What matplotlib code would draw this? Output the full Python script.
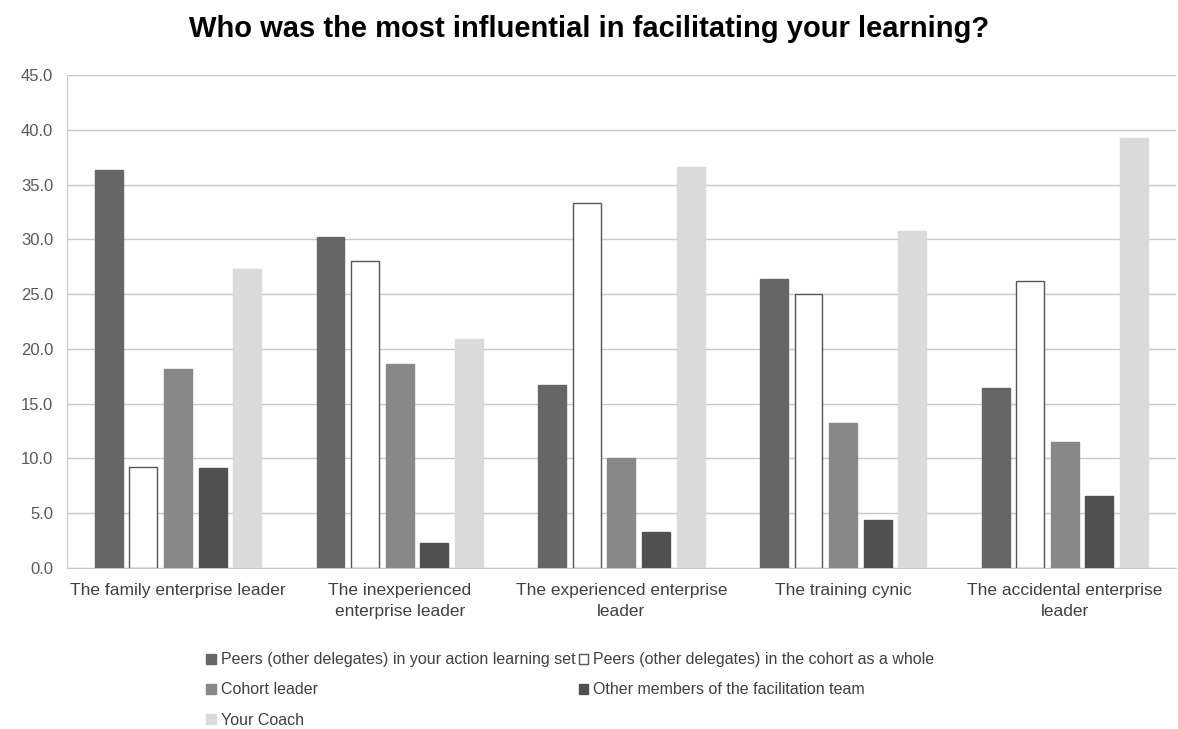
import matplotlib
matplotlib.use("agg")
import matplotlib.pyplot as plt
import numpy as np

plt.rcParams['font.family'] = ['Liberation Sans', 'DejaVu Sans']

title = "Who was the most influential in facilitating your learning?"
categories = ["The family enterprise leader",
              "The inexperienced\nenterprise leader",
              "The experienced enterprise\nleader",
              "The training cynic",
              "The accidental enterprise\nleader"]
series = ["Peers (other delegates) in your action learning set",
          "Peers (other delegates) in the cohort as a whole",
          "Cohort leader",
          "Other members of the facilitation team",
          "Your Coach"]
peers_set = [36.3, 30.2, 16.7, 26.4, 16.4]
peers_cohort = [9.2, 28.0, 33.3, 25.0, 26.2]
cohort_leader = [18.2, 18.6, 10.0, 13.2, 11.5]
other_members = [9.1, 2.3, 3.3, 4.4, 6.6]
your_coach = [27.3, 20.9, 36.6, 30.8, 39.3]

values = [peers_set, peers_cohort, cohort_leader, other_members, your_coach]
colors = ['#666666', '#ffffff', '#888888', '#505050', '#dadada']
edges = ['#666666', '#555555', '#888888', '#505050', '#dadada']

fig = plt.figure(figsize=(11.78, 7.29), dpi=100)
ax = fig.add_axes([0.057, 0.221, 0.941, 0.676])

x = np.arange(len(categories))
step = 0.156
width = 0.126
bars = []
for i, (vals, c, e) in enumerate(zip(values, colors, edges)):
    b = ax.bar(x + (i - 2) * step, vals, width, color=c, edgecolor=e,
               linewidth=1.0, label=series[i], zorder=3)
    bars.append(b)

ax.set_xlim(-0.5, len(categories) - 0.5)
ax.set_ylim(0, 45)
ax.set_yticks(np.arange(0, 45.1, 5))
ax.set_yticklabels(['%.1f' % v for v in np.arange(0, 45.1, 5)])
ax.set_xticks(x)
ax.set_xticklabels(categories, fontsize=12.5, color='#404040', linespacing=1.5)
ax.tick_params(axis='y', labelsize=12, labelcolor='#595959', length=0, pad=10)
ax.tick_params(axis='x', length=0, pad=11)
ax.grid(axis='y', color='#c8c8c8', linewidth=1.0, zorder=0)
for s in ['top', 'right']:
    ax.spines[s].set_visible(False)
ax.spines['left'].set_color('#c8c8c8')
ax.spines['bottom'].set_color('#c8c8c8')

fig.suptitle(title, fontsize=21, fontweight='bold', y=0.98, x=0.5)

order = [0, 2, 4, 1, 3]
fig.legend([bars[i] for i in order], [series[i] for i in order],
           loc='upper left', bbox_to_anchor=(0.163, 0.125), ncol=2,
           frameon=False, fontsize=11.5, handlelength=0.6, handleheight=0.6,
           handletextpad=0.3, columnspacing=0.2, labelspacing=0.95,
           labelcolor='#404040')

plt.savefig('out.png', dpi=100)
plt.close()
